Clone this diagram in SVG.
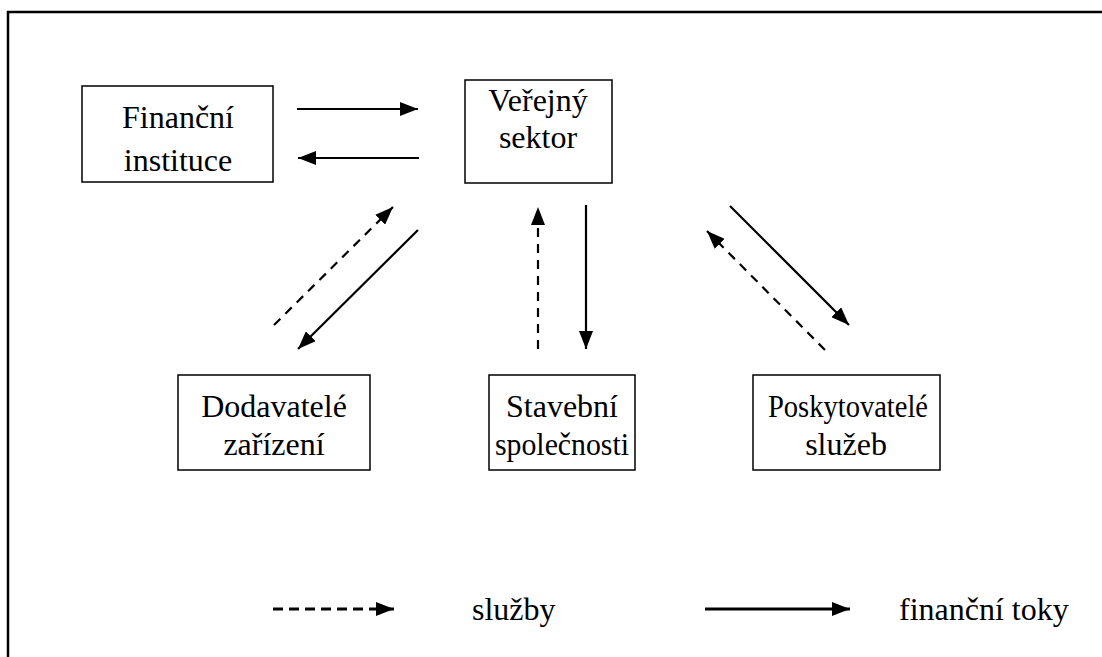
<svg xmlns="http://www.w3.org/2000/svg" width="1102" height="657" viewBox="0 0 1102 657">
<defs>
<marker id="ah" viewBox="0 0 18 14" refX="18" refY="7" markerWidth="18" markerHeight="14" markerUnits="userSpaceOnUse" orient="auto">
<path d="M0,0 L18,7 L0,14 Z" fill="#000"/>
</marker>
</defs>
<style>
.box{fill:#fff;stroke:#000;stroke-width:1.5}
.t{font-family:"Liberation Serif","Times New Roman",serif;font-size:32px;fill:#000;text-anchor:middle}
.tl{font-family:"Liberation Serif","Times New Roman",serif;font-size:32px;fill:#000}
.s{stroke:#000;stroke-width:2.2;fill:none;marker-end:url(#ah)}
.d{stroke:#000;stroke-width:2.2;fill:none;stroke-dasharray:9,7;marker-end:url(#ah)}
</style>
<rect width="1102" height="657" fill="#fff"/>
<path d="M8,657 L8,12 L1102,12" fill="none" stroke="#000" stroke-width="2.5"/>
<g id="financni">
<rect class="box" x="82" y="86" width="191" height="96"/>
<text class="t" x="178" y="128">Finanční</text>
<text class="t" x="178" y="171">instituce</text>
</g>
<g id="verejny">
<rect class="box" x="465" y="80" width="147" height="103"/>
<text class="t" x="538" y="111">Veřejný</text>
<text class="t" x="538" y="148">sektor</text>
</g>
<g id="dodavatele">
<rect class="box" x="178" y="375" width="192" height="95"/>
<text class="t" x="274" y="417">Dodavatelé</text>
<text class="t" x="274" y="455">zařízení</text>
</g>
<g id="stavebni">
<rect class="box" x="489" y="375" width="146" height="95"/>
<text class="t" x="562" y="417">Stavební</text>
<text class="t" x="562" y="455" textLength="134" lengthAdjust="spacingAndGlyphs">společnosti</text>
</g>
<g id="poskytovatele">
<rect class="box" x="753" y="375" width="187" height="95"/>
<text class="t" x="848" y="417" textLength="160" lengthAdjust="spacingAndGlyphs">Poskytovatelé</text>
<text class="t" x="846" y="455">služeb</text>
</g>
<g id="connectors">
<line class="s" x1="297" y1="109" x2="418" y2="109"/>
<line class="s" x1="419" y1="158" x2="298" y2="158"/>
<line class="d" x1="274" y1="325" x2="393" y2="207"/>
<line class="s" x1="418" y1="230" x2="298" y2="349"/>
<line class="d" x1="538" y1="349" x2="538" y2="207"/>
<line class="s" x1="586" y1="205" x2="586" y2="349"/>
<line class="s" x1="730" y1="206" x2="849" y2="325"/>
<line class="d" x1="825" y1="350" x2="707" y2="231"/>
</g>
<g id="legend">
<line class="d" x1="273" y1="609" x2="394" y2="609" style="stroke-dasharray:10,6;stroke-width:2.8"/>
<text class="tl" x="472" y="620">služby</text>
<line class="s" x1="705" y1="609" x2="850" y2="609" style="stroke-width:2.8"/>
<text class="tl" x="899" y="620">finanční toky</text>
</g>
</svg>
